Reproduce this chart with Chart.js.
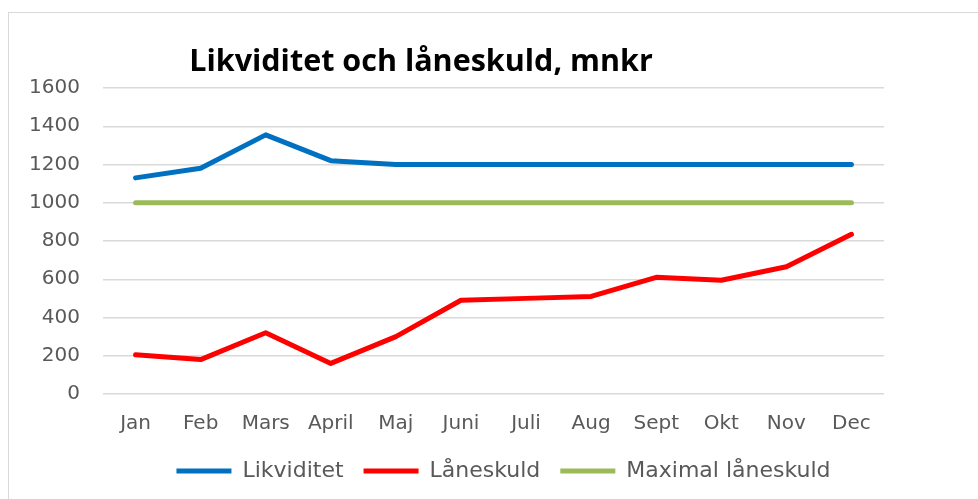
<!DOCTYPE html>
<html>
<head>
<meta charset="utf-8">
<script src="https://cdn.jsdelivr.net/npm/chart.js@4"></script>
<style>
  body { margin: 0; background: #fff; overflow: hidden; }
  #wrap { position: relative; width: 978px; height: 499px; }
  #frame { position: absolute; left: 8px; top: 12px; width: 1100px; height: 600px; border: 1.5px solid #d9d9d9; }
  canvas { position: absolute; left: 0; top: 0; }
</style>
</head>
<body>
<div id="wrap">
  <div id="frame"></div>
  <canvas id="myChart" width="978" height="499"></canvas>
</div>
<script>
var manader = ["Jan", "Feb", "Mars", "April", "Maj", "Juni", "Juli", "Aug", "Sept", "Okt", "Nov", "Dec"];
var likviditet = [1130, 1180, 1355, 1220, 1200, 1200, 1200, 1200, 1200, 1200, 1200, 1200];
var laneskuld = [205, 180, 320, 160, 300, 490, 500, 510, 610, 595, 665, 835];
var maxLaneskuld = [1000, 1000, 1000, 1000, 1000, 1000, 1000, 1000, 1000, 1000, 1000, 1000];
var yMin = 0, yMax = 1600, yStep = 200;

var textColor = '#595959';
var fontFamily = '"DejaVu Sans", sans-serif';

// title sits left of centre in the original, so draw it by hand
var titlePlugin = {
  id: 'titleText',
  afterDraw: function (chart) {
    var c = chart.ctx;
    c.save();
    c.font = 'bold 30.5px "Open Sans", sans-serif';
    c.fillStyle = '#000';
    c.textAlign = 'center';
    c.textBaseline = 'middle';
    c.fillText('Likviditet och låneskuld, mnkr', 421, 62);
    c.restore();
  }
};

function serie(label, data, color) {
  return {
    label: label,
    data: data,
    borderColor: color,
    backgroundColor: color,
    borderWidth: 5,
    borderCapStyle: 'round',
    borderJoinStyle: 'round',
    pointRadius: 0,
    tension: 0,
    fill: false
  };
}

var ctx = document.getElementById('myChart').getContext('2d');

var myChart = new Chart(ctx, {
  type: 'line',
  data: {
    labels: manader,
    datasets: [
      serie('Likviditet', likviditet, '#0070C0'),
      serie('Låneskuld', laneskuld, '#FF0000'),
      serie('Maximal låneskuld', maxLaneskuld, '#9BBB59')
    ]
  },
  options: {
    responsive: false,
    animation: false,
    layout: { padding: { left: 29, right: 0, top: 88, bottom: 7 } },
    plugins: {
      tooltip: { enabled: false },
      title: { display: false },
      legend: {
        position: 'bottom',
        labels: {
          usePointStyle: true,
          pointStyle: 'line',
          pointStyleWidth: 55,
          boxHeight: 22,
          padding: 20,
          color: textColor,
          font: { family: fontFamily, size: 22 }
        }
      }
    },
    scales: {
      x: {
        offset: true,
        grid: { display: false, drawTicks: false },
        border: { display: false },
        ticks: {
          color: textColor,
          padding: 20,
          maxRotation: 0,
          autoSkip: false,
          font: { family: fontFamily, size: 20, lineHeight: 1 }
        },
        afterFit: function (scale) { scale.height = 46; }
      },
      y: {
        min: yMin,
        max: yMax,
        grid: { color: '#d9d9d9', lineWidth: 1.5, drawTicks: false },
        border: { display: false },
        ticks: {
          stepSize: yStep,
          color: textColor,
          padding: 23,
          font: { family: fontFamily, size: 20 },
          callback: function (v) { return String(v); }
        },
        afterFit: function (scale) { scale.width = 74; }
      },
      hoger: {
        position: 'right',
        grid: { display: false, drawTicks: false },
        border: { display: false },
        ticks: { display: false },
        afterFit: function (scale) { scale.width = 94; }
      }
    }
  },
  plugins: [titlePlugin]
});
</script>
</body>
</html>
